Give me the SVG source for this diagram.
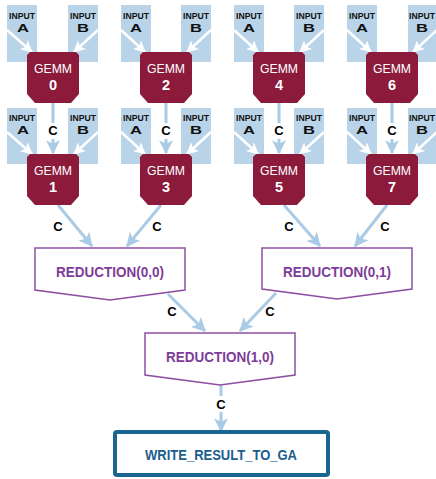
<svg xmlns="http://www.w3.org/2000/svg" width="436" height="479" viewBox="0 0 436 479">
<defs>
<style>
text{font-family:"Liberation Sans",Arial,sans-serif;font-weight:bold;text-anchor:middle}
.inp{fill:#b9d4e9}
.it{font-size:9.5px;fill:#111}
.il{font-size:11.5px;fill:#111}
.gemm{fill:#8b1a3b}
.gt{fill:#fff;font-size:13px;font-weight:normal}
.gn{fill:#fff;font-size:14.5px}
.conn{stroke:#a9cbe5;stroke-width:3;fill:none}
.warr{stroke:#fff;stroke-width:2.5;fill:none}
.red{fill:#fff;stroke:#8e4fa3;stroke-width:1.5}
.rt{fill:#7d3c98;font-size:14px}
.cl{font-size:13px;fill:#000}
.wr{fill:#fff;stroke:#1b6592;stroke-width:4}
.wt{fill:#1b5e8e;font-size:15px}
</style>
<marker id="ab" markerUnits="userSpaceOnUse" markerWidth="14" markerHeight="14" viewBox="0 0 12 12" refX="11" refY="6" orient="auto">
<path d="M0,0 L12,6 L0,12 L3,6 z" fill="#a9cbe5"/>
</marker>
<marker id="aw" markerUnits="userSpaceOnUse" markerWidth="12" markerHeight="12" viewBox="0 0 12 12" refX="11" refY="6" orient="auto">
<path d="M0,0 L12,6 L0,12 L3,6 z" fill="#fff"/>
</marker>
</defs>

<!-- Input boxes -->
<g id="inputs">
<g id="in0a"><rect class="inp" x="7" y="5" width="30" height="57"/><text class="it" x="22" y="19" textLength="26" lengthAdjust="spacingAndGlyphs">INPUT</text><text class="il" x="23" y="31.5" textLength="12" lengthAdjust="spacingAndGlyphs">A</text></g>
<g id="in0b"><rect class="inp" x="68" y="5" width="30" height="57"/><text class="it" x="83" y="19" textLength="26" lengthAdjust="spacingAndGlyphs">INPUT</text><text class="il" x="83" y="31.5" textLength="12" lengthAdjust="spacingAndGlyphs">B</text></g>
<g id="in1a"><rect class="inp" x="7" y="108" width="30" height="56"/><text class="it" x="22" y="121" textLength="26" lengthAdjust="spacingAndGlyphs">INPUT</text><text class="il" x="23" y="134" textLength="12" lengthAdjust="spacingAndGlyphs">A</text></g>
<g id="in1b"><rect class="inp" x="68" y="108" width="30" height="56"/><text class="it" x="83" y="121" textLength="26" lengthAdjust="spacingAndGlyphs">INPUT</text><text class="il" x="83" y="134" textLength="12" lengthAdjust="spacingAndGlyphs">B</text></g>

<g id="in2a"><rect class="inp" x="121" y="5" width="30" height="57"/><text class="it" x="136" y="19" textLength="26" lengthAdjust="spacingAndGlyphs">INPUT</text><text class="il" x="136" y="31.5" textLength="12" lengthAdjust="spacingAndGlyphs">A</text></g>
<g id="in2b"><rect class="inp" x="181" y="5" width="30" height="57"/><text class="it" x="196" y="19" textLength="26" lengthAdjust="spacingAndGlyphs">INPUT</text><text class="il" x="196" y="31.5" textLength="12" lengthAdjust="spacingAndGlyphs">B</text></g>
<g id="in3a"><rect class="inp" x="121" y="108" width="30" height="56"/><text class="it" x="136" y="121" textLength="26" lengthAdjust="spacingAndGlyphs">INPUT</text><text class="il" x="136" y="134" textLength="12" lengthAdjust="spacingAndGlyphs">A</text></g>
<g id="in3b"><rect class="inp" x="181" y="108" width="30" height="56"/><text class="it" x="196" y="121" textLength="26" lengthAdjust="spacingAndGlyphs">INPUT</text><text class="il" x="196" y="134" textLength="12" lengthAdjust="spacingAndGlyphs">B</text></g>

<g id="in4a"><rect class="inp" x="234" y="5" width="30" height="57"/><text class="it" x="249" y="19" textLength="26" lengthAdjust="spacingAndGlyphs">INPUT</text><text class="il" x="249" y="31.5" textLength="12" lengthAdjust="spacingAndGlyphs">A</text></g>
<g id="in4b"><rect class="inp" x="294" y="5" width="30" height="57"/><text class="it" x="309" y="19" textLength="26" lengthAdjust="spacingAndGlyphs">INPUT</text><text class="il" x="309" y="31.5" textLength="12" lengthAdjust="spacingAndGlyphs">B</text></g>
<g id="in5a"><rect class="inp" x="234" y="108" width="30" height="56"/><text class="it" x="249" y="121" textLength="26" lengthAdjust="spacingAndGlyphs">INPUT</text><text class="il" x="249" y="134" textLength="12" lengthAdjust="spacingAndGlyphs">A</text></g>
<g id="in5b"><rect class="inp" x="294" y="108" width="30" height="56"/><text class="it" x="309" y="121" textLength="26" lengthAdjust="spacingAndGlyphs">INPUT</text><text class="il" x="309" y="134" textLength="12" lengthAdjust="spacingAndGlyphs">B</text></g>

<g id="in6a"><rect class="inp" x="347" y="5" width="30" height="57"/><text class="it" x="362" y="19" textLength="26" lengthAdjust="spacingAndGlyphs">INPUT</text><text class="il" x="362" y="31.5" textLength="12" lengthAdjust="spacingAndGlyphs">A</text></g>
<g id="in6b"><rect class="inp" x="408" y="5" width="30" height="57"/><text class="it" x="422" y="19" textLength="26" lengthAdjust="spacingAndGlyphs">INPUT</text><text class="il" x="422" y="31.5" textLength="12" lengthAdjust="spacingAndGlyphs">B</text></g>
<g id="in7a"><rect class="inp" x="347" y="108" width="30" height="56"/><text class="it" x="362" y="121" textLength="26" lengthAdjust="spacingAndGlyphs">INPUT</text><text class="il" x="362" y="134" textLength="12" lengthAdjust="spacingAndGlyphs">A</text></g>
<g id="in7b"><rect class="inp" x="408" y="108" width="30" height="56"/><text class="it" x="422" y="121" textLength="26" lengthAdjust="spacingAndGlyphs">INPUT</text><text class="il" x="422" y="134" textLength="12" lengthAdjust="spacingAndGlyphs">B</text></g>
</g>

<!-- Connectors -->
<g id="connectors">
<g class="warr" marker-end="url(#aw)">
<line x1="7" y1="30" x2="32" y2="52"/><line x1="98" y1="30" x2="74" y2="52"/>
<line x1="7" y1="132" x2="32" y2="154"/><line x1="98" y1="132" x2="74" y2="154"/>
<line x1="121" y1="30" x2="145" y2="52"/><line x1="211" y1="30" x2="187" y2="52"/>
<line x1="121" y1="132" x2="145" y2="154"/><line x1="211" y1="132" x2="187" y2="154"/>
<line x1="234" y1="30" x2="258" y2="52"/><line x1="324" y1="30" x2="300" y2="52"/>
<line x1="234" y1="132" x2="258" y2="154"/><line x1="324" y1="132" x2="300" y2="154"/>
<line x1="347" y1="30" x2="371" y2="52"/><line x1="437" y1="30" x2="413" y2="52"/>
<line x1="347" y1="132" x2="371" y2="154"/><line x1="437" y1="132" x2="413" y2="154"/>
</g>
<g class="conn">
<line x1="53" y1="103" x2="53" y2="123"/><line x1="53" y1="139" x2="53" y2="153" marker-end="url(#ab)"/>
<line x1="166" y1="103" x2="166" y2="123"/><line x1="166" y1="139" x2="166" y2="153" marker-end="url(#ab)"/>
<line x1="279" y1="103" x2="279" y2="123"/><line x1="279" y1="139" x2="279" y2="153" marker-end="url(#ab)"/>
<line x1="392" y1="103" x2="392" y2="123"/><line x1="392" y1="139" x2="392" y2="153" marker-end="url(#ab)"/>
<line x1="58" y1="205" x2="92" y2="246" marker-end="url(#ab)"/>
<line x1="161" y1="205" x2="127" y2="246" marker-end="url(#ab)"/>
<line x1="284" y1="205" x2="320" y2="246" marker-end="url(#ab)"/>
<line x1="387" y1="205" x2="355" y2="246" marker-end="url(#ab)"/>
<line x1="168" y1="294" x2="205" y2="331" marker-end="url(#ab)"/>
<line x1="276" y1="293" x2="240" y2="331" marker-end="url(#ab)"/>
<line x1="221" y1="385" x2="221" y2="396"/><line x1="221" y1="412" x2="221" y2="431" marker-end="url(#ab)"/>
</g>
<g id="clabels">
<text class="cl" x="53" y="135">C</text>
<text class="cl" x="166" y="135">C</text>
<text class="cl" x="279" y="135">C</text>
<text class="cl" x="392" y="135">C</text>
<text class="cl" x="58" y="231">C</text>
<text class="cl" x="157" y="231">C</text>
<text class="cl" x="289" y="231">C</text>
<text class="cl" x="385" y="231">C</text>
<text class="cl" x="172" y="316">C</text>
<text class="cl" x="270" y="316">C</text>
<text class="cl" x="221" y="409">C</text>
</g>
</g>

<!-- GEMM nodes -->
<g id="gemm0"><path class="gemm" d="M30,52 H76 L79,55 V94 L71,103 H35 L27,94 V55 Z"/><text class="gt" x="53" y="73" textLength="38" lengthAdjust="spacingAndGlyphs">GEMM</text><text class="gn" x="53" y="89.5">0</text></g>
<g id="gemm1"><path class="gemm" d="M30,154 H76 L79,157 V196 L71,205 H35 L27,196 V157 Z"/><text class="gt" x="53" y="175" textLength="38" lengthAdjust="spacingAndGlyphs">GEMM</text><text class="gn" x="53" y="191.5">1</text></g>
<g id="gemm2"><path class="gemm" d="M143,52 H189 L192,55 V94 L184,103 H148 L140,94 V55 Z"/><text class="gt" x="166" y="73" textLength="38" lengthAdjust="spacingAndGlyphs">GEMM</text><text class="gn" x="166" y="89.5">2</text></g>
<g id="gemm3"><path class="gemm" d="M143,154 H189 L192,157 V196 L184,205 H148 L140,196 V157 Z"/><text class="gt" x="166" y="175" textLength="38" lengthAdjust="spacingAndGlyphs">GEMM</text><text class="gn" x="166" y="191.5">3</text></g>
<g id="gemm4"><path class="gemm" d="M256,52 H302 L305,55 V94 L297,103 H261 L253,94 V55 Z"/><text class="gt" x="279" y="73" textLength="38" lengthAdjust="spacingAndGlyphs">GEMM</text><text class="gn" x="279" y="89.5">4</text></g>
<g id="gemm5"><path class="gemm" d="M256,154 H302 L305,157 V196 L297,205 H261 L253,196 V157 Z"/><text class="gt" x="279" y="175" textLength="38" lengthAdjust="spacingAndGlyphs">GEMM</text><text class="gn" x="279" y="191.5">5</text></g>
<g id="gemm6"><path class="gemm" d="M369,52 H415 L418,55 V94 L410,103 H374 L366,94 V55 Z"/><text class="gt" x="392" y="73" textLength="38" lengthAdjust="spacingAndGlyphs">GEMM</text><text class="gn" x="392" y="89.5">6</text></g>
<g id="gemm7"><path class="gemm" d="M369,154 H415 L418,157 V196 L410,205 H374 L366,196 V157 Z"/><text class="gt" x="392" y="175" textLength="38" lengthAdjust="spacingAndGlyphs">GEMM</text><text class="gn" x="392" y="191.5">7</text></g>

<!-- Reductions -->
<g id="red00"><polygon class="red" points="35,248 185,248 185,290 110,300 35,290"/><text class="rt" x="110" y="277" textLength="108" lengthAdjust="spacingAndGlyphs">REDUCTION(0,0)</text></g>
<g id="red01"><polygon class="red" points="262,248 412,248 412,289 337,299 262,289"/><text class="rt" x="337" y="277" textLength="108" lengthAdjust="spacingAndGlyphs">REDUCTION(0,1)</text></g>
<g id="red10"><polygon class="red" points="145,333 295,333 295,375 220,385 145,375"/><text class="rt" x="220" y="362" textLength="108" lengthAdjust="spacingAndGlyphs">REDUCTION(1,0)</text></g>

<!-- Write -->
<g id="write"><rect class="wr" x="115" y="432" width="213" height="43" rx="2"/><text class="wt" x="221" y="460" textLength="152" lengthAdjust="spacingAndGlyphs">WRITE_RESULT_TO_GA</text></g>
</svg>
